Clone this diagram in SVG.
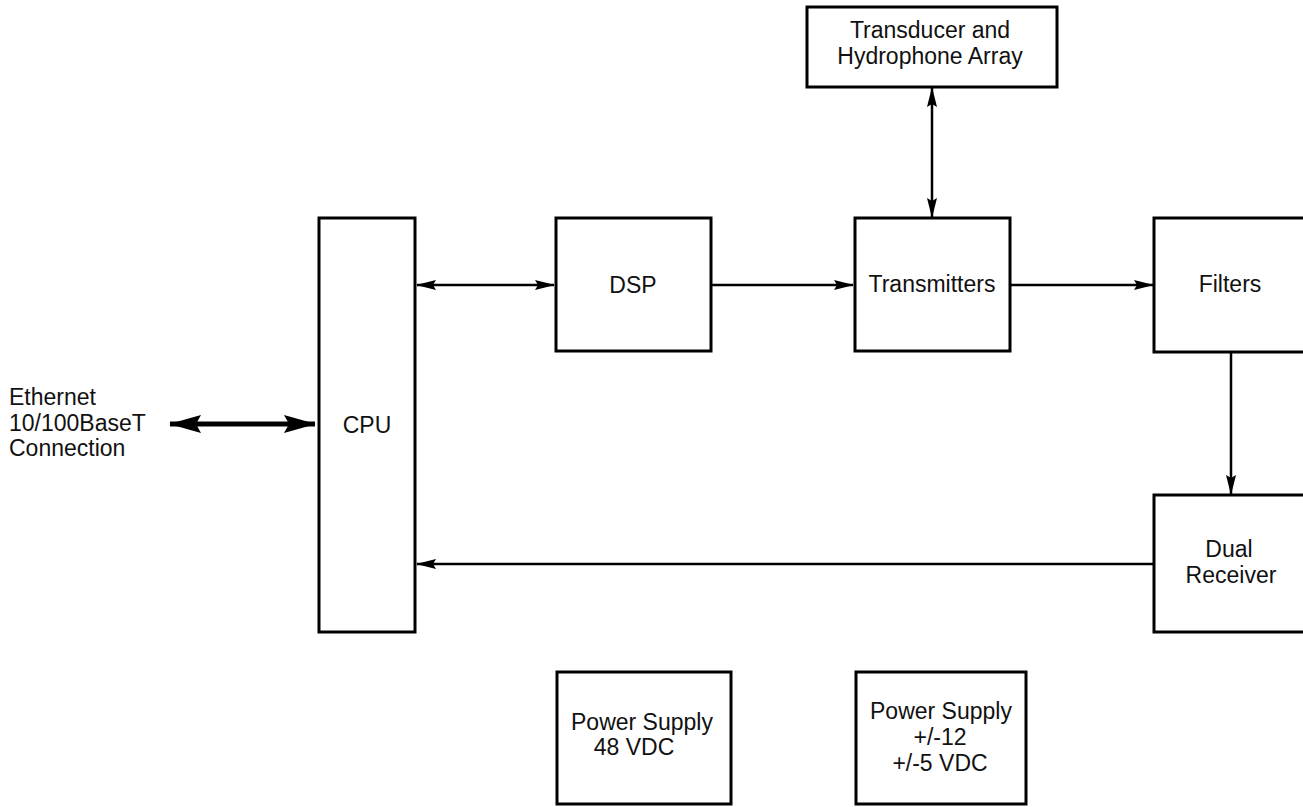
<svg xmlns="http://www.w3.org/2000/svg" width="1303" height="807" viewBox="0 0 1303 807">
<style>
.box{fill:#fff;stroke:#000;stroke-width:3}
.t{font-family:"Liberation Sans",Arial,sans-serif;font-size:23px;fill:#111;text-anchor:middle}
.ln{stroke:#000;stroke-width:2.5;fill:none}
.thick{stroke:#000;stroke-width:5;fill:none}
</style>
<defs>
<marker id="ah" markerUnits="userSpaceOnUse" markerWidth="20" markerHeight="12" refX="19" refY="6" orient="auto-start-reverse" viewBox="0 0 20 12">
<path d="M0,1 L20,6 L0,11 L3,6 z" fill="#000"/>
</marker>
<marker id="ahb" markerUnits="userSpaceOnUse" markerWidth="32" markerHeight="18" refX="31" refY="9" orient="auto-start-reverse" viewBox="0 0 32 18">
<path d="M0,0 L32,9 L0,18 L5,9 z" fill="#000"/>
</marker>
</defs>
<g id="connectors">
<line class="thick" x1="170" y1="424" x2="315" y2="424" marker-start="url(#ahb)" marker-end="url(#ahb)"/>
<line class="ln" x1="417" y1="285" x2="554" y2="285" marker-start="url(#ah)" marker-end="url(#ah)"/>
<line class="ln" x1="711" y1="285" x2="853" y2="285" marker-end="url(#ah)"/>
<line class="ln" x1="1010" y1="285" x2="1153" y2="285" marker-end="url(#ah)"/>
<line class="ln" x1="932" y1="88" x2="932" y2="217" marker-start="url(#ah)" marker-end="url(#ah)"/>
<line class="ln" x1="1231" y1="352" x2="1231" y2="494" marker-end="url(#ah)"/>
<line class="ln" x1="1154" y1="564" x2="417" y2="564" marker-end="url(#ah)"/>
</g>
<g id="ethernet">
<text class="t" x="9" y="405" style="text-anchor:start">Ethernet</text>
<text class="t" x="9" y="431" style="text-anchor:start">10/100BaseT</text>
<text class="t" x="9" y="456" style="text-anchor:start">Connection</text>
</g>
<g id="cpu">
<rect class="box" x="319" y="218" width="96" height="414"/>
<text class="t" x="367" y="433">CPU</text>
</g>
<g id="dsp">
<rect class="box" x="556" y="218" width="155" height="133"/>
<text class="t" x="633" y="293">DSP</text>
</g>
<g id="transmitters">
<rect class="box" x="855" y="218" width="155" height="133"/>
<text class="t" x="932" y="292">Transmitters</text>
</g>
<g id="filters">
<rect class="box" x="1154" y="218" width="160" height="134"/>
<text class="t" x="1230" y="292">Filters</text>
</g>
<g id="transducer">
<rect class="box" x="807" y="7" width="250" height="80"/>
<text class="t" x="930" y="38">Transducer and</text>
<text class="t" x="930" y="64">Hydrophone Array</text>
</g>
<g id="dual-receiver">
<rect class="box" x="1154" y="495" width="160" height="137"/>
<text class="t" x="1229" y="557">Dual</text>
<text class="t" x="1231" y="583">Receiver</text>
</g>
<g id="ps48">
<rect class="box" x="557" y="672" width="174" height="132"/>
<text class="t" x="642" y="730">Power Supply</text>
<text class="t" x="634" y="755">48 VDC</text>
</g>
<g id="ps12">
<rect class="box" x="856" y="672" width="170" height="132"/>
<text class="t" x="941" y="719">Power Supply</text>
<text class="t" x="940" y="745">+/-12</text>
<text class="t" x="940" y="771">+/-5 VDC</text>
</g>
</svg>
